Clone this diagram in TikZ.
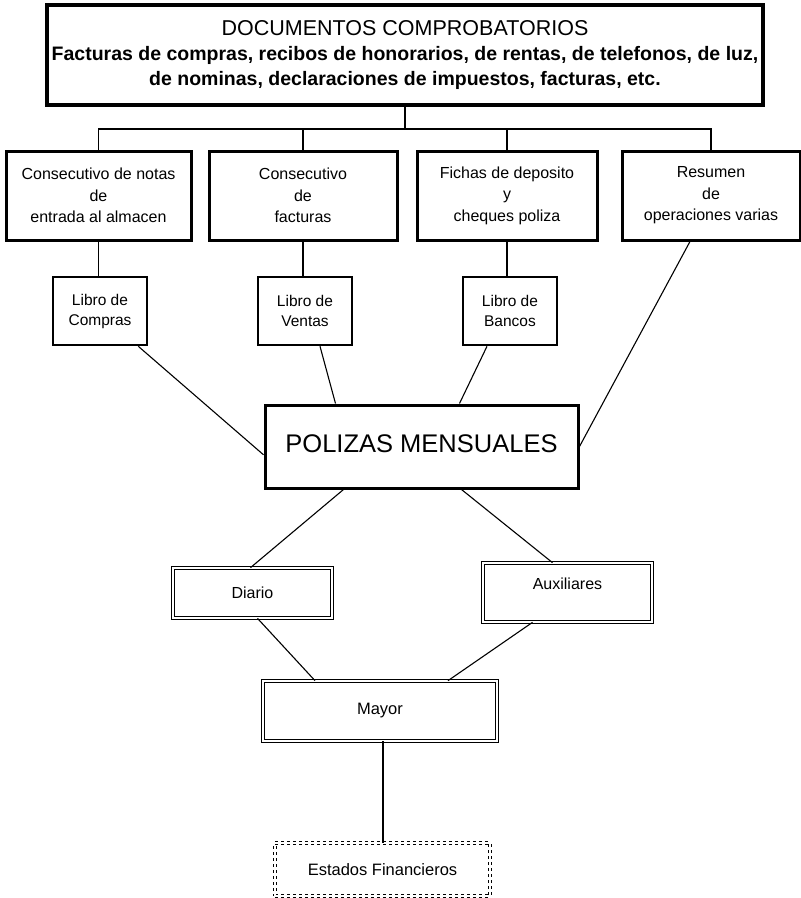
\documentclass[tikz,border=0pt]{standalone}
\usepackage{fontspec}
\setmainfont{Liberation Sans}

\begin{document}
\begin{tikzpicture}[x=1pt, y=-1pt,
  box/.style={draw, line width=3pt, align=center, inner sep=0pt},
  consbox/.style={box, minimum height=89pt, font=\fontsize{16}{21.5}\selectfont},
  librobox/.style={draw, line width=2.6pt, align=center, inner sep=0pt, minimum width=94pt, minimum height=68pt, font=\fontsize{15.5}{20}\selectfont},
  dbl/.style={draw, double, double distance=1.8pt, line width=0.7pt, align=center, inner sep=0pt, font=\fontsize{16}{19}\selectfont},
  link/.style={line width=1.1pt}]
  \useasboundingbox (0,0) rectangle (801,898);
  % top box
  \node[box, line width=3.5pt, minimum width=716pt, minimum height=100pt, font=\bfseries\fontsize{19.5}{25}\selectfont] (docs) at (405,55)
    {{\mdseries\fontsize{21.5}{25}\selectfont DOCUMENTOS COMPROBATORIOS}\\
     Facturas de compras, recibos de honorarios, de rentas, de telefonos, de luz,\\
     de nominas, declaraciones de impuestos, facturas, etc.};
  % second row
  \node[consbox, minimum width=185pt] (cons1) at (98.5,195.5) {Consecutivo de notas\\de\\entrada al almacen};
  \node[consbox, minimum width=188pt] (cons2) at (303,195.5) {Consecutivo\\de\\facturas};
  \node[consbox, minimum width=180pt] (cons3) at (507,195.5) {Fichas de deposito\\y\\cheques poliza};
  \node[consbox, minimum width=178pt] (cons4) at (711,195.5) {Resumen\\de\\operaciones varias};
  \draw[link] (docs.south) -- (docs.south |- 0,129);
  \draw[link] (cons1.north) |- (cons4.north |- 0,129) -- (cons4.north);
  \draw[link] (cons2.north) -- (cons2.north |- 0,129);
  \draw[link] (cons3.north) -- (cons3.north |- 0,129);
  % libros
  \node[librobox] (libc) at (100,311) {Libro de\\Compras};
  \node[librobox] (libv) at (305,311) {Libro de\\Ventas};
  \node[librobox] (libb) at (510,311) {Libro de\\Bancos};
  \draw[link] (cons1.south) -- (cons1.south |- libc.north);
  \draw[link] (cons2.south) -- (cons2.south |- libv.north);
  \draw[link] (cons3.south) -- (cons3.south |- libb.north);
  % polizas
  \node[box, minimum width=313pt, text height=47pt, text depth=36pt, font=\fontsize{25.5}{30}\selectfont] (pol) at (421.5,446.5) {POLIZAS MENSUALES};
  \draw[link] ([xshift=-10pt]libc.south east) -- (pol.183);
  \draw[link] ([xshift=15pt]libv.south) -- ([xshift=-86pt]pol.north);
  \draw[link] ([xshift=-23pt]libb.south) -- ([xshift=38pt]pol.north);
  \draw[link] ([xshift=-21pt]cons4.south) -- (pol.east);
  % diario, auxiliares
  \node[dbl, minimum width=159pt, minimum height=50pt] (diario) at (252.5,593) {Diario};
  \node[dbl, minimum width=169pt, text height=26pt, text depth=33pt] (aux) at (567.5,592.5) {Auxiliares};
  \draw[link] ([xshift=-78pt]pol.south) -- ([xshift=-2pt]diario.north);
  \draw[link] ([xshift=40pt]pol.south) -- ([xshift=-15pt]aux.north);
  % mayor
  \node[dbl, minimum width=234pt, minimum height=60pt, font=\fontsize{16.5}{19}\selectfont] (mayor) at (380,711) {Mayor};
  \draw[link] ([xshift=5pt]diario.south) -- ([xshift=-65pt]mayor.north);
  \draw[link] ([xshift=-35pt]aux.south) -- ([xshift=68pt]mayor.north);
  % estados
  \node[dbl, dashed, minimum width=215pt, minimum height=53pt, font=\fontsize{16.5}{19}\selectfont] (edos) at (382.5,869.5) {Estados Financieros};
  \draw[link] ([xshift=3pt]mayor.south) -- ([xshift=3pt]mayor.south |- edos.north);
\end{tikzpicture}
\end{document}
